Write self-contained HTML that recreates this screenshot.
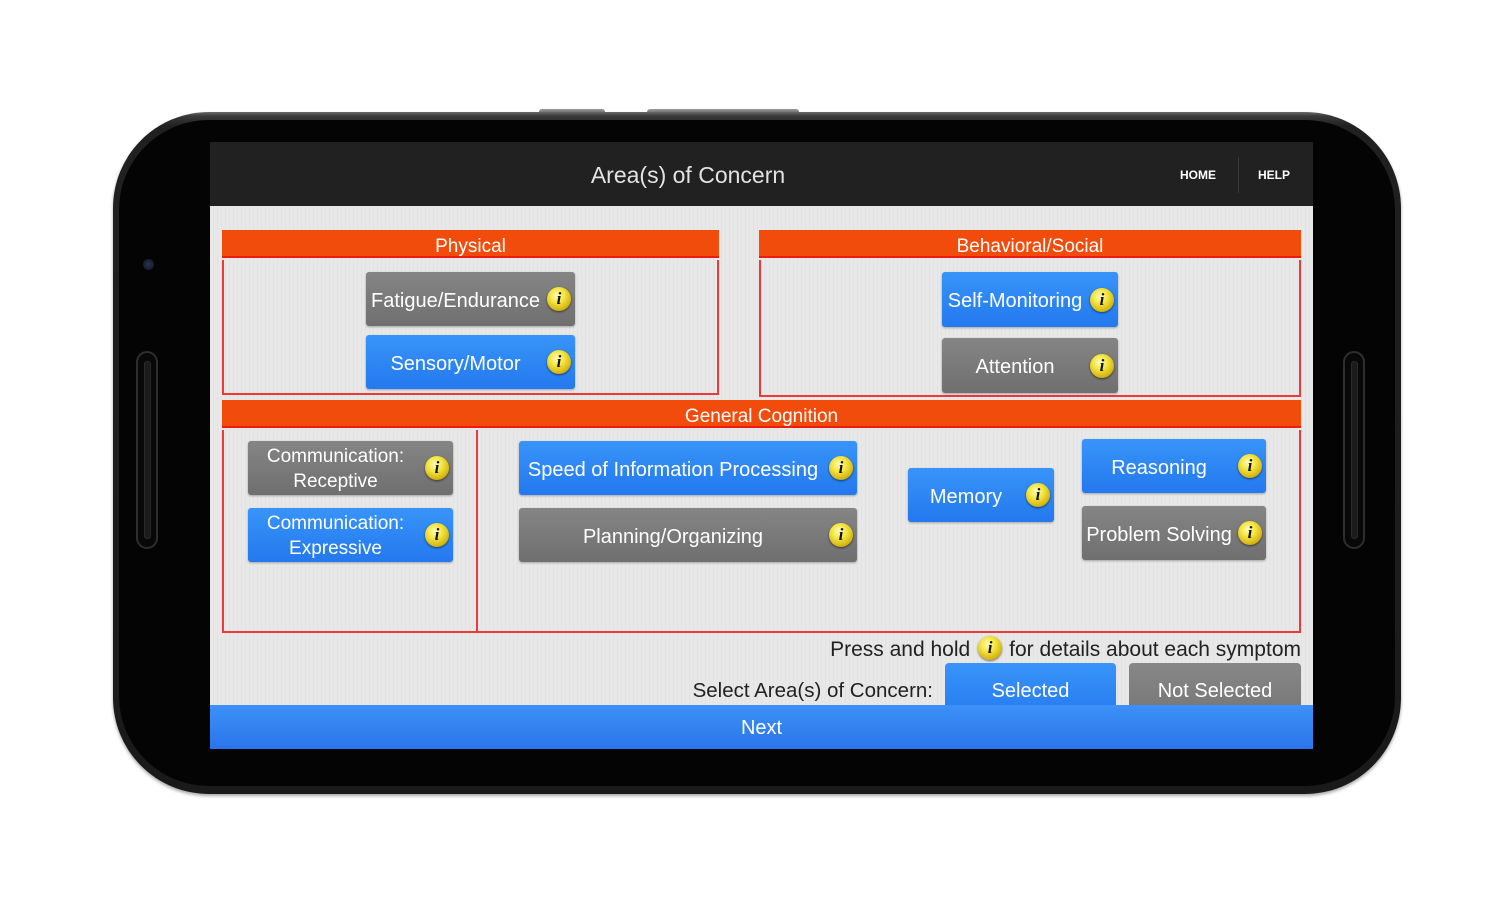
<!DOCTYPE html>
<html><head><meta charset="utf-8">
<style>
*{margin:0;padding:0;box-sizing:border-box}
html,body{width:1511px;height:900px;background:#fff;overflow:hidden;position:relative;font-family:"Liberation Sans",Arial,sans-serif}
.abs{position:absolute}
.phone{position:absolute;left:113px;top:112px;width:1288px;height:682px;border-radius:96px;background:linear-gradient(#6a6a6a 0px,#3a3a3a 4px,#202020 14px,#1a1a1a 100%);box-shadow:0 2px 3px rgba(0,0,0,.35)}
.phone-in{position:absolute;left:6px;top:8px;right:6px;bottom:8px;border-radius:90px;background:#040404}
.btnbump{position:absolute;top:109px;height:6px;background:linear-gradient(#9a9a9a,#5a5a5a);border-radius:3px 3px 0 0}
.slot{position:absolute;width:22px;height:198px;border-radius:11px;border:2px solid #2e2e2e;background:#080808}
.slot::after{content:"";position:absolute;left:6px;top:8px;width:5px;bottom:8px;border-radius:3px;background:#1c1c1c;border:1px solid #2a2a2a}
.screen{position:absolute;left:210px;top:142px;width:1103px;height:607px;overflow:hidden;background:#e8e8e8}
.header{position:absolute;left:0;top:0;width:1103px;height:64px;background:#212121}
.content{position:absolute;left:0;top:64px;width:1103px;height:499px;background:#e8e8e8;background-image:repeating-linear-gradient(90deg,rgba(0,0,0,0) 0px,rgba(0,0,0,0) 3px,rgba(0,0,0,.025) 3px,rgba(0,0,0,.025) 4px)}
.bar{position:absolute;height:28px;background:#f24c0c;border-bottom:2px solid #f01a10;color:#fff;font-size:19px;text-align:center;line-height:33px}
.box{position:absolute;border:2px solid #ec3a3a;border-top:none}
.b{position:absolute;border-radius:3px;color:#fff;font-size:20px;line-height:1.2;display:flex;align-items:center;justify-content:center;padding-right:30px;padding-top:3px;box-shadow:0 1px 2px rgba(0,0,0,.3);white-space:nowrap;text-align:center}
.blue{background:linear-gradient(#3894f9,#2379ee)}
.gray{background:linear-gradient(#858585,#6f6f6f)}
.i{position:absolute;width:24px;height:24px;border-radius:50%;background:radial-gradient(circle at 42% 35%,#fffcc0 0%,#f4e53e 35%,#d6b512 70%,#7a6210 100%);box-shadow:0 1px 2px rgba(0,0,0,.55);color:#111;font:italic bold 17px/24px "Liberation Serif",serif;text-align:center}
.b .i{right:4px;top:50%;margin-top:-12px}
.txt{position:absolute;color:#222;font-size:21px;white-space:nowrap}
.ii{display:inline-block;vertical-align:middle;width:24px;height:24px;border-radius:50%;background:radial-gradient(circle at 42% 35%,#fffcc0 0%,#f4e53e 35%,#d6b512 70%,#7a6210 100%);box-shadow:0 1px 2px rgba(0,0,0,.55);color:#111;font:italic bold 17px/24px "Liberation Serif",serif;text-align:center;margin:-4px 7px 0 8px}
</style></head><body>

<div class="btnbump" style="left:539px;width:66px"></div>
<div class="btnbump" style="left:647px;width:152px"></div>
<div class="phone"><div class="phone-in"></div></div>
<div class="slot" style="left:136px;top:351px"></div>
<div class="slot" style="left:1343px;top:351px"></div>
<div class="abs" style="left:143px;top:259px;width:11px;height:11px;border-radius:50%;background:radial-gradient(circle,#2a3350,#101420)"></div>

<div class="screen">
  <div class="header">
    <div class="abs" style="left:0;width:956px;top:20px;text-align:center;color:#e2e2e2;font-size:23px">Area(s) of Concern</div>
    <div class="abs" style="left:970px;top:26px;color:#fff;font-size:12px;font-weight:bold">HOME</div>
    <div class="abs" style="left:1028px;top:15px;width:1px;height:36px;background:#3a3a3a"></div>
    <div class="abs" style="left:1048px;top:26px;color:#fff;font-size:12px;font-weight:bold">HELP</div>
  </div>
  <div class="content"></div>

  <!-- Physical -->
  <div class="bar" style="left:12px;top:88px;width:497px">Physical</div>
  <div class="box" style="left:12px;top:118px;width:497px;height:135px"></div>
  <div class="b gray" style="left:156px;top:130px;width:209px;height:54px">Fatigue/Endurance<span class="i">i</span></div>
  <div class="b blue" style="left:156px;top:193px;width:209px;height:54px">Sensory/Motor<span class="i">i</span></div>

  <!-- Behavioral -->
  <div class="bar" style="left:549px;top:88px;width:542px">Behavioral/Social</div>
  <div class="box" style="left:549px;top:118px;width:542px;height:137px"></div>
  <div class="b blue" style="left:732px;top:130px;width:176px;height:55px">Self-Monitoring<span class="i">i</span></div>
  <div class="b gray" style="left:732px;top:196px;width:176px;height:55px">Attention<span class="i">i</span></div>

  <!-- General Cognition -->
  <div class="bar" style="left:12px;top:258px;width:1079px">General Cognition</div>
  <div class="box" style="left:12px;top:288px;width:1079px;height:203px"></div>
  <div class="abs" style="left:266px;top:288px;width:2px;height:203px;background:#ec3a3a"></div>
  <div class="b gray" style="left:38px;top:299px;width:205px;height:54px;font-size:19px;line-height:1.3">Communication:<br>Receptive<span class="i">i</span></div>
  <div class="b blue" style="left:38px;top:366px;width:205px;height:54px;font-size:19px;line-height:1.3">Communication:<br>Expressive<span class="i">i</span></div>
  <div class="b blue" style="left:309px;top:299px;width:338px;height:54px">Speed of Information Processing<span class="i">i</span></div>
  <div class="b gray" style="left:309px;top:366px;width:338px;height:54px">Planning/Organizing<span class="i">i</span></div>
  <div class="b blue" style="left:698px;top:326px;width:146px;height:54px">Memory<span class="i">i</span></div>
  <div class="b blue" style="left:872px;top:297px;width:184px;height:54px">Reasoning<span class="i">i</span></div>
  <div class="b gray" style="left:872px;top:364px;width:184px;height:54px">Problem Solving<span class="i">i</span></div>

  <!-- Bottom -->
  <div class="txt" style="right:12px;top:496px">Press and hold<span class="ii">i</span>for details about each symptom</div>
  <div class="txt" style="right:380px;top:537px;font-size:20.5px">Select Area(s) of Concern:</div>
  <div class="abs" style="left:735px;top:521px;width:171px;height:42px;border-radius:4px 4px 0 0;background:linear-gradient(#3894f9,#2a80f2);color:#fff;font-size:20px;text-align:center;padding-top:16px;line-height:24px">Selected</div>
  <div class="abs" style="left:919px;top:521px;width:172px;height:42px;border-radius:4px 4px 0 0;background:linear-gradient(#878787,#7a7a7a);color:#fff;font-size:20px;text-align:center;padding-top:16px;line-height:24px">Not Selected</div>

  <div class="abs" style="left:0;top:563px;width:1103px;height:44px;background:linear-gradient(#3d91f8,#2a75ea);color:#fff;font-size:20px;text-align:center;line-height:46px">Next</div>
</div>
</body></html>
